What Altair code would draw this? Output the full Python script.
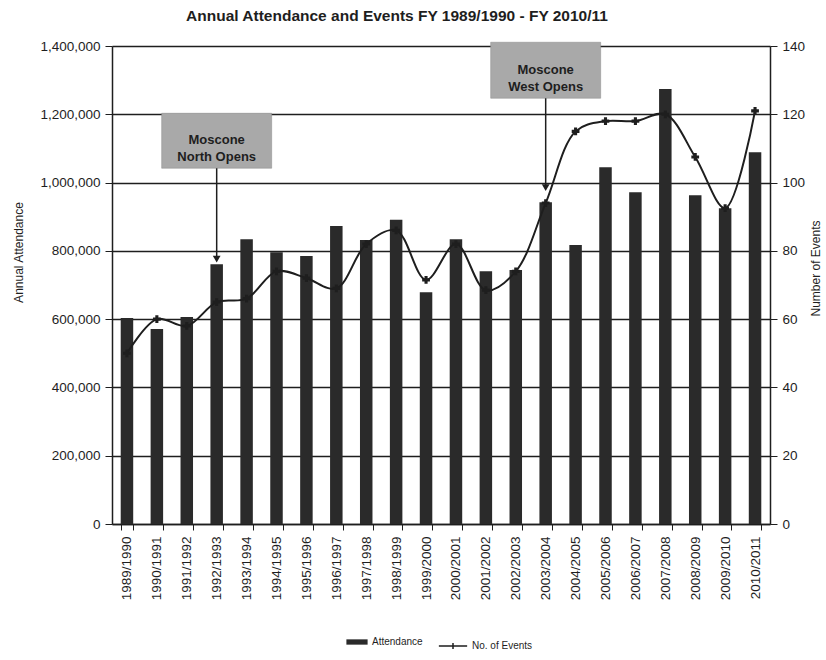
import altair as alt
import pandas as pd

years = ["1989/1990", "1990/1991", "1991/1992", "1992/1993", "1993/1994", "1994/1995",
         "1995/1996", "1996/1997", "1997/1998", "1998/1999", "1999/2000", "2000/2001",
         "2001/2002", "2002/2003", "2003/2004", "2004/2005", "2005/2006", "2006/2007",
         "2007/2008", "2008/2009", "2009/2010", "2010/2011"]
attendance = [603000, 571000, 606000, 761000, 834000, 796000, 785000, 873000, 832000,
              891000, 679000, 834000, 740000, 744000, 942000, 817000, 1045000, 972000,
              1274000, 963000, 925000, 1089000]
events = [50, 60, 58, 65, 66, 74, 72, 69, 82, 86, 71.5, 82, 68.5, 74, 94, 115, 118,
          118, 120, 107.5, 92.5, 121]

ann_years = ["1992/1993", "2003/2004"]
ann_text = [["Moscone", "North Opens"], ["Moscone", "West Opens"]]
ann_box_top = [1203000, 1411000]
ann_box_bottom = [1042000, 1247000]
ann_text_mid = [1124000, 1329000]
ann_tip = [776000, 985000]

df = pd.DataFrame({"year": years, "attendance": attendance, "events": events,
                   "s1": "Attendance", "s2": "No. of Events"})
ann = pd.DataFrame({"year": ann_years, "text": ann_text, "top": ann_box_top,
                    "bottom": ann_box_bottom, "mid": ann_text_mid, "tip": ann_tip})

FONT = "Liberation Sans"
INK = "#1e1e1e"

xenc = alt.X("year:N", sort=years, title=None,
             scale=alt.Scale(paddingInner=0.58, paddingOuter=0.29),
             axis=alt.Axis(labelAngle=270, labelFontSize=13.5, labelFont=FONT, labelColor=INK,
                           tickBand="extent", tickColor=INK, tickSize=6, domainColor=INK,
                           domainWidth=1.5, labelPadding=6, grid=False))

yL = alt.Scale(domain=[0, 1400000])
yR = alt.Scale(domain=[0, 140])

bars = alt.Chart(df).mark_bar(size=12.5).encode(
    x=xenc,
    y=alt.Y("attendance:Q", scale=yL, title="Annual Attendance",
            axis=alt.Axis(values=list(range(0, 1400001, 200000)), format=",d",
                          labelFont=FONT, labelFontSize=13.5, labelColor=INK, labelPadding=5,
                          titleFont=FONT, titleFontSize=12, titleFontWeight="normal",
                          titleColor=INK, titleAngle=270, titleX=-87, titleY=206,
                          titleBaseline="bottom", grid=True, gridColor=INK,
                          gridWidth=1.3, tickColor=INK, tickSize=7, domainColor=INK,
                          domainWidth=1.5)),
    fill=alt.Fill("s1:N", scale=alt.Scale(range=["#2a2a2a"]), title=None,
                  legend=alt.Legend(orient="none", legendX=234, legendY=585,
                                    symbolType="M-1,-0.25H1V0.25H-1Z", symbolSize=450,
                                    labelFont=FONT, labelFontSize=10, labelColor=INK,
                                    symbolStrokeWidth=0)),
)

boxes = alt.Chart(ann).mark_bar(size=110, color="#a9a9a9", stroke="#8a8a8a",
                                strokeWidth=0.5).encode(
    x=alt.X("year:N", sort=years), y=alt.Y("bottom:Q", scale=yL), y2="top:Q")
texts = alt.Chart(ann).mark_text(font=FONT, fontSize=13, fontWeight="bold", color=INK,
                                 lineHeight=17, baseline="middle").encode(
    x=alt.X("year:N", sort=years), y=alt.Y("mid:Q", scale=yL), text="text")
arrows = alt.Chart(ann).mark_rule(color=INK, strokeWidth=1.5).encode(
    x=alt.X("year:N", sort=years), y=alt.Y("bottom:Q", scale=yL), y2="tip:Q")
heads = alt.Chart(ann).mark_point(shape="triangle-down", filled=True, color=INK, size=60,
                                  opacity=1).encode(
    x=alt.X("year:N", sort=years), y=alt.Y("tip:Q", scale=yL))

left = alt.layer(bars, boxes, arrows, heads, texts)

line = alt.Chart(df).mark_line(interpolate="catmull-rom", strokeWidth=2).encode(
    x=alt.X("year:N", sort=years),
    y=alt.Y("events:Q", scale=yR, title="Number of Events",
            axis=alt.Axis(orient="right", values=list(range(0, 141, 20)),
                          labelFont=FONT, labelFontSize=13.5, labelColor=INK, labelPadding=5,
                          titleFont=FONT, titleFontSize=12, titleFontWeight="normal",
                          titleColor=INK, titleAngle=270, titleX=52, titleY=222,
                          titleBaseline="bottom", grid=False, tickColor=INK,
                          tickSize=7, domainColor=INK, domainWidth=1.5)),
    stroke=alt.Stroke("s2:N", scale=alt.Scale(range=[INK]), title=None,
                      legend=alt.Legend(orient="none", legendX=326, legendY=585,
                                        symbolType="M-1,0H1M0,-0.22V0.22", symbolSize=800,
                                        symbolStrokeWidth=1.5,
                                        labelFont=FONT, labelFontSize=10, labelColor=INK)),
)
pts = alt.Chart(df).mark_point(shape="cross", filled=True, color=INK, size=60,
                               opacity=1).encode(
    x=alt.X("year:N", sort=years), y=alt.Y("events:Q", scale=yR))

right = alt.layer(line, pts)

chart = alt.layer(left, right).resolve_scale(y="independent").properties(
    width=658, height=478,
    autosize=alt.AutoSizeParams(type="none"),
    padding={"left": 112, "top": 46, "right": 56, "bottom": 136},
    title=alt.TitleParams("Annual Attendance and Events FY 1989/1990 - FY 2010/11",
                          font=FONT, fontSize=15.5, fontWeight="bold", color=INK,
                          anchor="middle", dx=-44, offset=15),
).configure_view(stroke=None).configure(background="white")

chart.save("out.html", embed_options={"renderer": "svg", "actions": False})
